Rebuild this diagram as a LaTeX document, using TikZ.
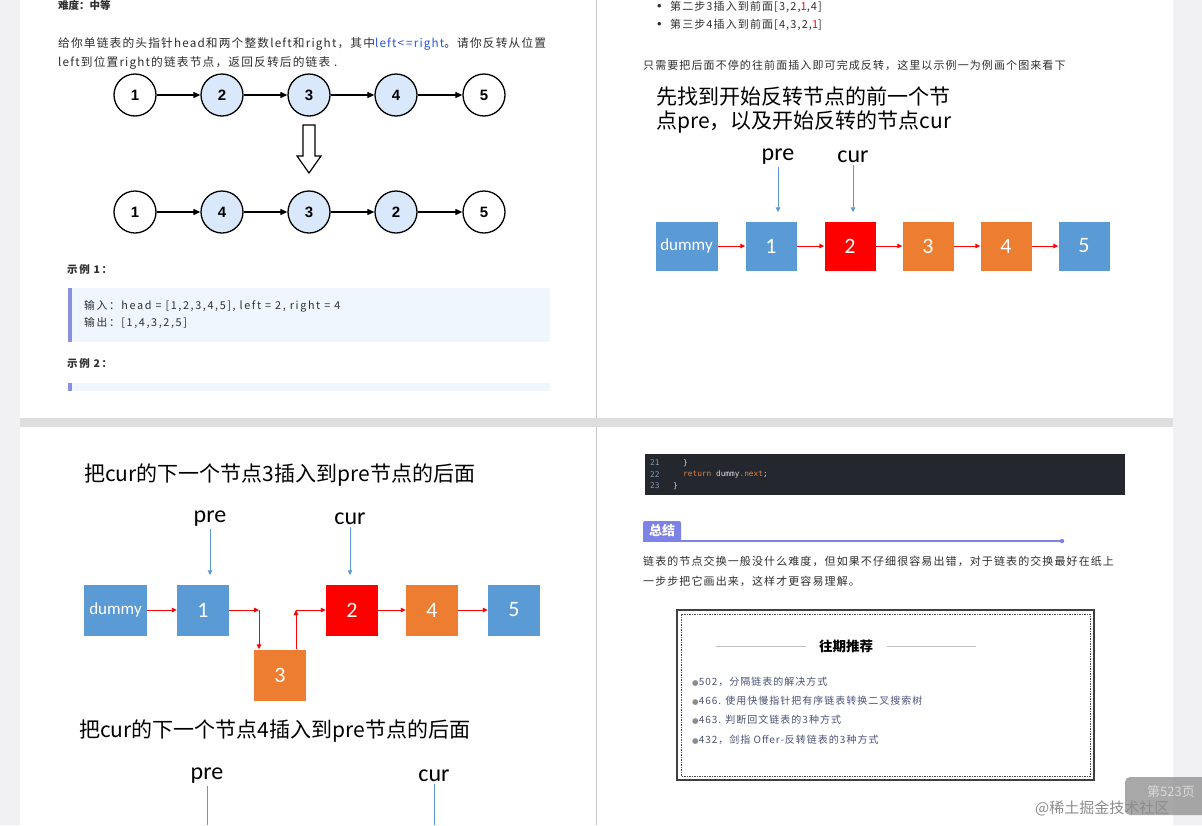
\documentclass[tikz,border=0pt]{standalone}
\usepackage{fontspec}
\setmainfont{Noto Sans CJK SC}
\newfontfamily\bodyf{Noto Sans CJK SC}[LetterSpace=10]
\newfontfamily\exf{Noto Sans CJK SC}[LetterSpace=15]
\newfontfamily\calf{Carlito}
\newfontfamily\arif{Liberation Sans}
\newfontfamily\djf{DejaVu Sans}
\newfontfamily\codef{DejaVu Sans Mono}
\usetikzlibrary{arrows.meta}
\definecolor{outerbg}{HTML}{F1F1F3}
\definecolor{bandgray}{HTML}{DEDEDE}
\definecolor{divgray}{HTML}{C8C8C8}
\definecolor{nodeblue}{HTML}{DAE8FC}
\definecolor{boxblue}{HTML}{5B9BD5}
\definecolor{boxorange}{HTML}{ED7D31}
\definecolor{boxred}{HTML}{FF0000}
\definecolor{linkblue}{HTML}{2B55E0}
\definecolor{quotebg}{HTML}{F0F6FD}
\definecolor{quotebar}{HTML}{8A8FE0}
\definecolor{codebg}{HTML}{24282E}
\definecolor{codenum}{HTML}{7F9CC0}
\definecolor{codekw}{HTML}{E0833F}
\definecolor{codetxt}{HTML}{D8D8D8}
\definecolor{bodytxt}{HTML}{2E2E2E}
\definecolor{recomtxt}{HTML}{4A5276}
\definecolor{sumblue}{HTML}{7C82E6}
\newcommand{\rdot}{\textcolor{black!45}{\raisebox{0.6pt}{\djf\fontsize{7.5}{7.5}\selectfont●}}}
\begin{document}
\begin{tikzpicture}[x=1pt,y=-1pt,
  txt/.style={anchor=west,inner sep=0pt,text=bodytxt},
  body/.style={txt,font=\bodyf\fontsize{11}{13}\selectfont},
  circ/.style={circle,draw=black,line width=1.3pt,minimum size=42pt,inner sep=0pt,font=\arif\bfseries\fontsize{15}{15}\selectfont},
  circf/.style={circ,fill=nodeblue},
  circw/.style={circ,fill=white},
  barr/.style={-{Triangle[length=7pt,width=6pt]},line width=1.2pt,black},
  sq/.style={rectangle,minimum width=51pt,minimum height=49pt,inner sep=0pt,text=white,font=\calf\fontsize{22}{22}\selectfont},
  sqb/.style={sq,fill=boxblue},
  sqo/.style={sq,fill=boxorange},
  sqr/.style={sq,fill=boxred},
  dum/.style={sqb,minimum width=62pt,font=\calf\fontsize{17}{17}\selectfont},
  rarr/.style={-{Triangle[length=5pt,width=4.5pt]},line width=1pt,boxred},
  parr/.style={-{Triangle[length=5pt,width=4.5pt]},line width=1pt,boxblue,shorten >=9pt},
  plabel/.style={inner sep=2pt,font=\calf\fontsize{24}{24}\selectfont},
  head/.style={txt,text=black,font=\fontsize{21}{25}\selectfont},
  recom/.style={txt,text=recomtxt,font=\bodyf\fontsize{10}{12}\selectfont},
  codeln/.style={anchor=west,inner sep=0pt,font=\codef\fontsize{7.8}{9}\selectfont}
]
\useasboundingbox (0,0) rectangle (1202,825);
% background and pages
\fill[outerbg] (0,0) rectangle (1202,825);
\fill[white] (20,0) rectangle (1173,418);
\fill[white] (20,427) rectangle (1173,825);
\fill[bandgray] (20,418) rectangle (1173,427);
\draw[divgray,line width=0.8pt] (596,0) -- (596,418);
\draw[divgray,line width=0.8pt] (596,427) -- (596,825);

% ===== top-left page =====
\node[txt,font=\bfseries\fontsize{10.5}{12}\selectfont] (diff) at (58,5) {难度：中等};
\node[body,font=\bodyf\fontsize{11.7}{13}\selectfont] (p1) at (58,44) {给你单链表的头指针head和两个整数left和right，其中\textcolor{linkblue}{left<\,=right}。请你反转从位置};
\node[body,font=\bodyf\fontsize{11.7}{13}\selectfont] (p2) at (58,63) {left到位置right的链表节点，返回反转后的链表 .};

\node[circw] (a1) at (135,95) {1};
\node[circf] (a2) at (222,95) {2};
\node[circf] (a3) at (309,95) {3};
\node[circf] (a4) at (396,95) {4};
\node[circw] (a5) at (484,95) {5};
\draw[barr] (a1) -- (a2);
\draw[barr] (a2) -- (a3);
\draw[barr] (a3) -- (a4);
\draw[barr] (a4) -- (a5);

\draw[line width=1.2pt,fill=white] (303,125) -- (315,125) -- (315,156) -- (321,156) -- (309,173) -- (297,156) -- (303,156) -- cycle;

\node[circw] (r1) at (135,212) {1};
\node[circf] (r2) at (222,212) {4};
\node[circf] (r3) at (309,212) {3};
\node[circf] (r4) at (396,212) {2};
\node[circw] (r5) at (484,212) {5};
\draw[barr] (r1) -- (r2);
\draw[barr] (r2) -- (r3);
\draw[barr] (r3) -- (r4);
\draw[barr] (r4) -- (r5);

\node[txt,font=\exf\bfseries\fontsize{10.5}{12}\selectfont] (ex1) at (67,270) {示例 1：};
\fill[quotebg] (68,288) rectangle (550,342);
\fill[quotebar] (68,288) rectangle (72,342);
\node[txt,font=\exf\fontsize{10.8}{12}\selectfont] (in1) at (84,306) {输入：head = [1,2,3,4,5], left = 2, right = 4};
\node[txt,font=\exf\fontsize{10.8}{12}\selectfont] (out1) at (84,323) {输出：[1,4,3,2,5]};
\node[txt,font=\exf\bfseries\fontsize{10.5}{12}\selectfont] (ex2) at (67,364) {示例 2：};
\fill[quotebg] (68,383) rectangle (550,391);
\fill[quotebar] (68,383) rectangle (72,391);

% ===== top-right page =====
\node[txt,font=\arif\fontsize{13}{13}\selectfont] (bul1) at (657,7) {•};
\node[body] (s2) at (670,7) {第二步3插入到前面[3,2,\textcolor{boxred}{1},4]};
\node[txt,font=\arif\fontsize{13}{13}\selectfont] (bul2) at (657,25) {•};
\node[body] (s3) at (670,25) {第三步4插入到前面[4,3,2,\textcolor{boxred}{1}]};
\node[body] (p3) at (643,65) {只需要把后面不停的往前面插入即可完成反转，这里以示例一为例画个图来看下};
\node[head] (h1) at (656,97) {先找到开始反转节点的前一个节};
\node[head] (h2) at (656,122) {点pre，以及开始反转的节点cur};

\node[plabel] (tpre) at (778,157) {pre};
\node[plabel] (tcur) at (853,157) {cur};
\node[dum] (td) at (686.5,246) {dummy};
\node[sqb] (t1) at (771,246) {1};
\node[sqr] (t2) at (850,246) {2};
\node[sqo] (t3) at (928,246) {3};
\node[sqo] (t4) at (1006,246) {4};
\node[sqb] (t5) at (1084,246) {5};
\draw[parr] (tpre.south) -- (tpre.south |- t1.north);
\draw[parr] (tcur.south) -- (tcur.south |- t2.north);
\draw[rarr] (td) -- (t1);
\draw[rarr] (t1) -- (t2);
\draw[rarr] (t2) -- (t3);
\draw[rarr] (t3) -- (t4);
\draw[rarr] (t4) -- (t5);

% ===== bottom-left page =====
\node[head] (h3) at (84,475) {把cur的下一个节点3插入到pre节点的后面};
\node[plabel] (bpre) at (210,519) {pre};
\node[plabel] (bcur) at (350,519) {cur};
\node[dum,minimum width=63pt,minimum height=51pt] (bd) at (115.5,610) {dummy};
\node[sqb,minimum width=52pt,minimum height=51pt] (b1) at (203,610) {1};
\node[sqr,minimum width=52pt,minimum height=51pt] (b2) at (352,610) {2};
\node[sqo,minimum width=52pt,minimum height=51pt] (b4) at (432,610) {4};
\node[sqb,minimum width=52pt,minimum height=51pt] (b5) at (514,610) {5};
\node[sqo,minimum width=52pt,minimum height=51pt] (b3) at (280,675) {3};
\draw[parr] (bpre.south) -- (bpre.south |- b1.north);
\draw[parr] (bcur.south) -- (bcur.south |- b2.north);
\draw[rarr] (bd) -- (b1);
\coordinate (c1) at (259,610);
\coordinate (c2) at (296,610);
\draw[rarr] (b1.east) -- (c1);
\draw[rarr] (c1) -- (c1 |- b3.north);
\draw[rarr] (c2 |- b3.north) -- (c2);
\draw[rarr] (c2) -- (b2.west);
\draw[rarr] (b2) -- (b4);
\draw[rarr] (b4) -- (b5);

\node[head] (h4) at (79,731) {把cur的下一个节点4插入到pre节点的后面};
\node[plabel] (cpre) at (207,776) {pre};
\node[plabel] (ccur) at (434,776) {cur};
\coordinate (cpe) at (207,825);
\coordinate (cce) at (434,825);
\draw[boxblue,line width=1pt] (cpre.south) -- (cpe);
\draw[boxblue,line width=1pt] (ccur.south) -- (cce);

% ===== bottom-right page =====
\begin{scope}
\clip (645,454) rectangle (1125,495);
\fill[codebg] (645,440) rectangle (1125,495);
\node[codeln,text=codenum] (l20) at (650,451) {20};
\node[codeln,text=codetxt] (l20t) at (695,451) {pre.next = next;};
\end{scope}
\node[codeln,text=codenum] (l21) at (650,463) {21};
\node[codeln,text=codetxt] (l21t) at (683,463) {\}};
\node[codeln,text=codenum] (l22) at (650,474.5) {22};
\node[codeln,text=codekw] (l22t) at (683,474.5) {return \textcolor{codetxt}{dummy}.next\textcolor{codetxt}{;}};
\node[codeln,text=codenum] (l23) at (650,486) {23};
\node[codeln,text=codetxt] (l23t) at (673,486) {\}};

\fill[sumblue,rounded corners=2pt] (643,541) -- (643,521) -- (681,521) -- (681,541) -- cycle;
\node[anchor=center,inner sep=0pt,text=white,font=\bfseries\fontsize{13}{13}\selectfont] (sum) at (662,531) {总结};
\coordinate (sumend) at (1062,541);
\draw[sumblue,line width=1.5pt] (643,541) -- (sumend);
\fill[sumblue] (sumend) circle (2.2pt);
\node[body] (p4) at (643,561) {链表的节点交换一般没什么难度，但如果不仔细很容易出错，对于链表的交换最好在纸上};
\node[body] (p5) at (643,581) {一步步把它画出来，这样才更容易理解。};

\draw[black!75,line width=1.5pt] (677,610) rectangle (1094,780);
\draw[black!70,line width=0.6pt,dash pattern=on 1.5pt off 1pt] (681,614) rectangle (1090,776);
\node[anchor=center,inner sep=0pt,font=\bfseries\fontsize{13.5}{14}\selectfont] (rt) at (846,646) {往期推荐};
\draw[black!25,line width=0.8pt] (716,646) -- (806,646);
\draw[black!25,line width=0.8pt] (887,646) -- (976,646);
\node[recom] (i1) at (692,682) {\rdot502，分隔链表的解决方式};
\node[recom] (i2) at (692,701) {\rdot466. 使用快慢指针把有序链表转换二叉搜索树};
\node[recom] (i3) at (692,720) {\rdot463. 判断回文链表的3种方式};
\node[recom] (i4) at (692,740) {\rdot432，剑指 Offer-反转链表的3种方式};

\node[anchor=west,inner sep=0pt,text=black!45,font=\fontsize{15}{15}\selectfont] (wm) at (1035,808) {@稀土掘金技术社区};
\fill[black!45,opacity=0.75,rounded corners=5pt] (1125,777) rectangle (1215,815);
\node[anchor=west,inner sep=0pt,text=white!85!black,font=\fontsize{13}{13}\selectfont] (pg) at (1147,792) {第523页};
\end{tikzpicture}
\end{document}
